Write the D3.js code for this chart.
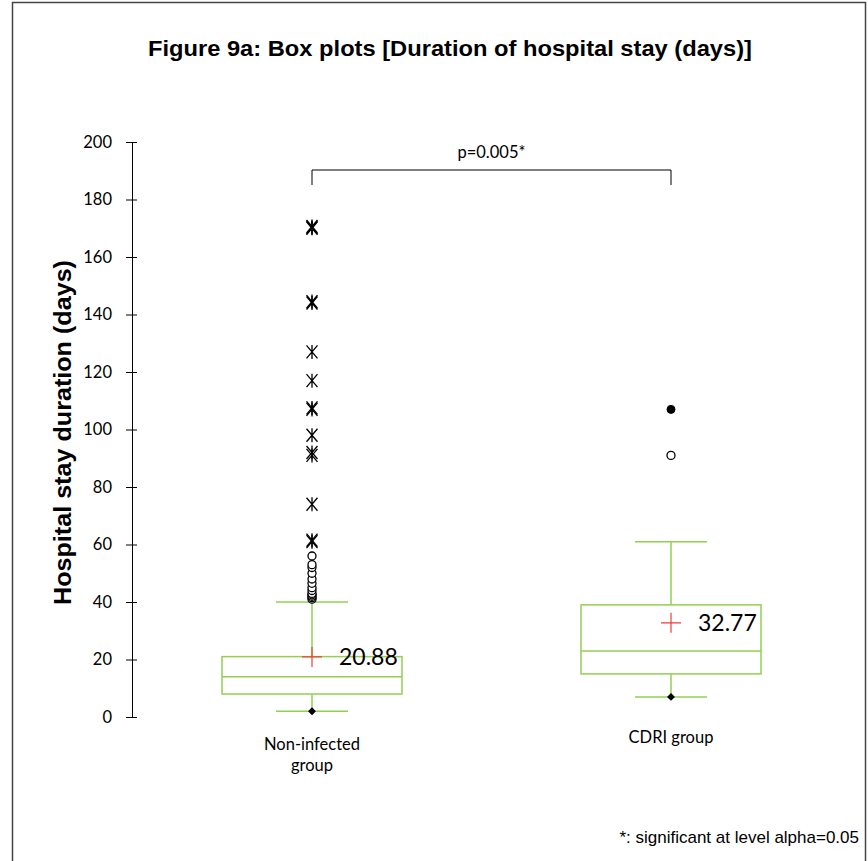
<!DOCTYPE html>
<html><head><meta charset="utf-8">
<script src="https://cdn.jsdelivr.net/npm/d3@7"></script>
<style>body{margin:0;background:#fff}svg{display:block}</style>
</head><body>
<script>
const categories = ["Non-infected group", "CDRI group"];
const mins = [2, 7];
const whiskerLow = [2, 7];
const q1 = [8, 15];
const medians = [14, 23];
const q3 = [21, 39];
const whiskerHigh = [40, 61];
const means = [20.88, 32.77];
const circleOutliers = [[41, 41.5, 42, 42.5, 43, 44, 45, 46.5, 48, 50, 52, 53, 56], [91]];
const filledOutliers = [[], [107]];
const starOutliers = [[61, 61.5, 74, 91, 92, 98, 107, 107.5, 117, 127, 144, 144.5, 170, 170.3, 170.6], []];
const yTicks = [0, 20, 40, 60, 80, 100, 120, 140, 160, 180, 200];
const pText = "p=0.005*";

const W = 868, H = 861;
const svg = d3.select("body").append("svg").attr("width", W).attr("height", H);
svg.append("rect").attr("x", 12.5).attr("y", 2.5).attr("width", 853).attr("height", 870)
  .attr("fill", "none").attr("stroke", "#444").attr("stroke-width", 1.5);

const y = d3.scaleLinear().domain([0, 200]).range([717, 142]);
const x = d3.scalePoint().domain(categories).range([312, 671]);
const axisX = 132;

svg.append("text").attr("x", 450).attr("y", 56).attr("text-anchor", "middle")
  .attr("font-family", "Liberation Sans, Arial").attr("font-weight", "bold").attr("font-size", 22)
  .attr("textLength", 604).attr("lengthAdjust", "spacingAndGlyphs")
  .text("Figure 9a: Box plots [Duration of hospital stay (days)]");

const ax = svg.append("g").attr("transform", `translate(${axisX},0)`)
  .call(d3.axisLeft(y).tickValues(yTicks).tickSize(6).tickSizeOuter(0).tickPadding(14));
ax.select(".domain").attr("stroke", "#000");
ax.selectAll(".tick line").attr("x1", -6).attr("x2", 5).attr("stroke", "#000");
ax.selectAll(".tick text").attr("font-family", "Lato, Open Sans, sans-serif").attr("font-size", 16.5).attr("fill", "#000");

svg.append("text").attr("transform", `translate(71,${y(100) + 3}) rotate(-90)`).attr("text-anchor", "middle")
  .attr("font-family", "Liberation Sans, Arial").attr("font-weight", "bold").attr("font-size", 23)
  .attr("textLength", 345).attr("lengthAdjust", "spacingAndGlyphs")
  .text("Hospital stay duration (days)");

const green = "#92d050";
const half = 90, cap = 36;
categories.forEach((c, i) => {
  const cx = x(c);
  const g = svg.append("g");
  g.append("line").attr("x1", cx).attr("x2", cx).attr("y1", y(q3[i])).attr("y2", y(whiskerHigh[i])).attr("stroke", green).attr("stroke-width", 1.5);
  g.append("line").attr("x1", cx).attr("x2", cx).attr("y1", y(q1[i])).attr("y2", y(whiskerLow[i])).attr("stroke", green).attr("stroke-width", 1.5);
  [whiskerHigh[i], whiskerLow[i]].forEach(v => g.append("line").attr("x1", cx - cap).attr("x2", cx + cap).attr("y1", y(v)).attr("y2", y(v)).attr("stroke", green).attr("stroke-width", 1.5));
  g.append("rect").attr("x", cx - half).attr("y", y(q3[i])).attr("width", 2 * half).attr("height", y(q1[i]) - y(q3[i]))
    .attr("fill", "none").attr("stroke", green).attr("stroke-width", 1.5);
  g.append("line").attr("x1", cx - half).attr("x2", cx + half).attr("y1", y(medians[i])).attr("y2", y(medians[i])).attr("stroke", green).attr("stroke-width", 1.5);
  g.append("path").attr("d", d3.symbol(d3.symbolDiamond2, 40)()).attr("transform", `translate(${cx},${y(mins[i])})`).attr("fill", "#000");
  g.append("path").attr("d", "M-10,0H10M0,-10V10").attr("transform", `translate(${cx},${y(means[i])})`).attr("stroke", "#f03c3c").attr("stroke-width", 1.2).attr("fill", "none");
  g.append("text").attr("x", cx + 27).attr("y", y(means[i]) + 8).attr("font-family", "Lato, Open Sans, sans-serif").attr("font-size", 23).attr("fill", "#000").text(means[i].toFixed(2));
  circleOutliers[i].forEach(v => g.append("circle").attr("cx", cx).attr("cy", y(v)).attr("r", 4).attr("fill", "#fff").attr("stroke", "#000").attr("stroke-width", 1.3));
  filledOutliers[i].forEach(v => g.append("circle").attr("cx", cx).attr("cy", y(v)).attr("r", 4).attr("fill", "#000").attr("stroke", "#000"));
  starOutliers[i].forEach(v => g.append("path").attr("d", "M-5.5,-6.5L5.5,6.5M-5.5,6.5L5.5,-6.5M0,-7V7").attr("transform", `translate(${cx},${y(v)})`).attr("stroke", "#000").attr("stroke-width", 1.3).attr("fill", "none"));
});

const lab = svg.append("g").attr("font-family", "Lato, Open Sans, sans-serif").attr("font-size", 16.5).attr("text-anchor", "middle").attr("fill", "#000");
lab.append("text").attr("x", x(categories[0])).attr("y", 750).text("Non-infected");
lab.append("text").attr("x", x(categories[0])).attr("y", 771).text("group");
lab.append("text").attr("x", x(categories[1])).attr("y", 743).text(categories[1]);

const by = 170;
svg.append("path").attr("d", `M${x(categories[0])},${by + 15}V${by}H${x(categories[1])}V${by + 15}`).attr("fill", "none").attr("stroke", "#000").attr("stroke-width", 1);
svg.append("text").attr("x", (x(categories[0]) + x(categories[1])) / 2).attr("y", 158).attr("text-anchor", "middle")
  .attr("font-family", "Lato, Open Sans, sans-serif").attr("font-size", 16.5).text(pText);

svg.append("text").attr("x", 859).attr("y", 843).attr("text-anchor", "end")
  .attr("font-family", "Liberation Sans, Arial").attr("font-size", 17).text("*: significant at level alpha=0.05");
</script>
</body></html>
